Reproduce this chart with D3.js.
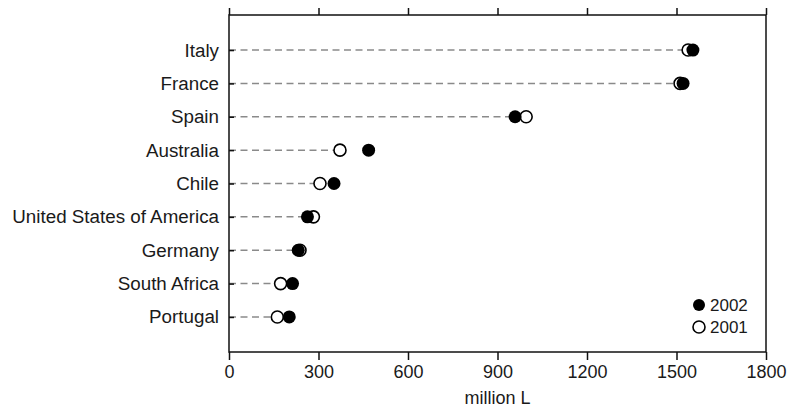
<!DOCTYPE html>
<html>
<head>
<meta charset="utf-8">
<script src="https://cdn.jsdelivr.net/npm/d3@7"></script>
<style>
  body { margin: 0; background: #fff; }
  svg { display: block; font-family: "Liberation Sans", Arial, sans-serif; }
</style>
</head>
<body>
<svg id="chart" width="794" height="409"></svg>
<script>
// countries, top to bottom
var countries = ["Italy", "France", "Spain", "Australia", "Chile",
                 "United States of America", "Germany", "South Africa", "Portugal"];
// million L
var values2002 = [1555, 1522, 959, 468, 352, 263, 232, 213, 202];
var values2001 = [1539, 1512, 996, 372, 305, 283, 238, 173, 162];
var xTicks = [0, 300, 600, 900, 1200, 1500, 1800];
var xLabel = "million L";

var margin = {top: 15, right: 28, bottom: 57, left: 229};
var svg = d3.select("#chart");
var width = +svg.attr("width") - margin.left - margin.right;
var height = +svg.attr("height") - margin.top - margin.bottom;

var g = svg.append("g")
    .attr("transform", "translate(" + margin.left + "," + margin.top + ")");

var x = d3.scaleLinear().domain([0, 1800]).range([0, width]);
var y = d3.scalePoint().domain(countries).range([0, height]).padding(1.05);

var data = countries.map(function(c, i) {
    return {country: c, v2002: values2002[i], v2001: values2001[i]};
});

// dashed guide lines from the axis to the left-most dot
g.selectAll(".guide")
    .data(data)
    .enter().append("line")
    .attr("class", "guide")
    .attr("x1", 0)
    .attr("x2", function(d) { return x(Math.min(d.v2001, d.v2002)) - 6; })
    .attr("y1", function(d) { return y(d.country); })
    .attr("y2", function(d) { return y(d.country); })
    .attr("stroke", "#8a8a8a")
    .attr("stroke-width", 1.5)
    .attr("stroke-dasharray", "7,4.5");

// frame
g.append("rect")
    .attr("width", width)
    .attr("height", height)
    .attr("fill", "none")
    .attr("stroke", "#111")
    .attr("stroke-width", 1.5);

// bottom axis
var xAxis = g.append("g")
    .attr("transform", "translate(0," + height + ")")
    .call(d3.axisBottom(x).tickValues(xTicks).tickFormat(d3.format("d"))
        .tickSize(8).tickSizeOuter(0).tickPadding(5));

// top axis, ticks only
var xTop = g.append("g")
    .call(d3.axisTop(x).tickValues(xTicks).tickSize(7).tickSizeOuter(0).tickFormat(""));

// left axis, short inner ticks
var yAxis = g.append("g")
    .call(d3.axisLeft(y).tickSize(-5).tickSizeOuter(0).tickPadding(10));

[xAxis, xTop, yAxis].forEach(function(a) {
    a.select(".domain").remove();
    a.selectAll(".tick line").attr("stroke", "#111").attr("stroke-width", 1.5);
    a.selectAll("text")
        .attr("fill", "#1a1a1a")
        .style("font-size", "18px")
        .style("font-family", "'Liberation Sans', Arial, sans-serif");
});
yAxis.selectAll("text").style("font-size", "18.8px");

// dots: 2001 open, 2002 filled on top
g.selectAll(".d2001")
    .data(data)
    .enter().append("circle")
    .attr("class", "d2001")
    .attr("cx", function(d) { return x(d.v2001); })
    .attr("cy", function(d) { return y(d.country); })
    .attr("r", 6)
    .attr("fill", "#fff")
    .attr("stroke", "#000")
    .attr("stroke-width", 1.6);

g.selectAll(".d2002")
    .data(data)
    .enter().append("circle")
    .attr("class", "d2002")
    .attr("cx", function(d) { return x(d.v2002); })
    .attr("cy", function(d) { return y(d.country); })
    .attr("r", 6.5)
    .attr("fill", "#000");

// x axis title
g.append("text")
    .attr("x", width / 2)
    .attr("y", height + 52)
    .attr("text-anchor", "middle")
    .attr("fill", "#1a1a1a")
    .style("font-size", "18px")
    .text(xLabel);

// legend
var legendItems = [
    {label: "2002", fill: "#000", stroke: "none"},
    {label: "2001", fill: "#fff", stroke: "#000"}
];
var legend = g.append("g")
    .attr("transform", "translate(" + (width - 67) + "," + (height - 47) + ")");
var item = legend.selectAll(".item")
    .data(legendItems)
    .enter().append("g")
    .attr("class", "item")
    .attr("transform", function(d, i) { return "translate(0," + (i * 22) + ")"; });
item.append("circle")
    .attr("r", 6)
    .attr("fill", function(d) { return d.fill; })
    .attr("stroke", function(d) { return d.stroke; })
    .attr("stroke-width", 1.6);
item.append("text")
    .attr("x", 11)
    .attr("dy", "0.35em")
    .attr("fill", "#1a1a1a")
    .style("font-size", "17px")
    .text(function(d) { return d.label; });
</script>
</body>
</html>
